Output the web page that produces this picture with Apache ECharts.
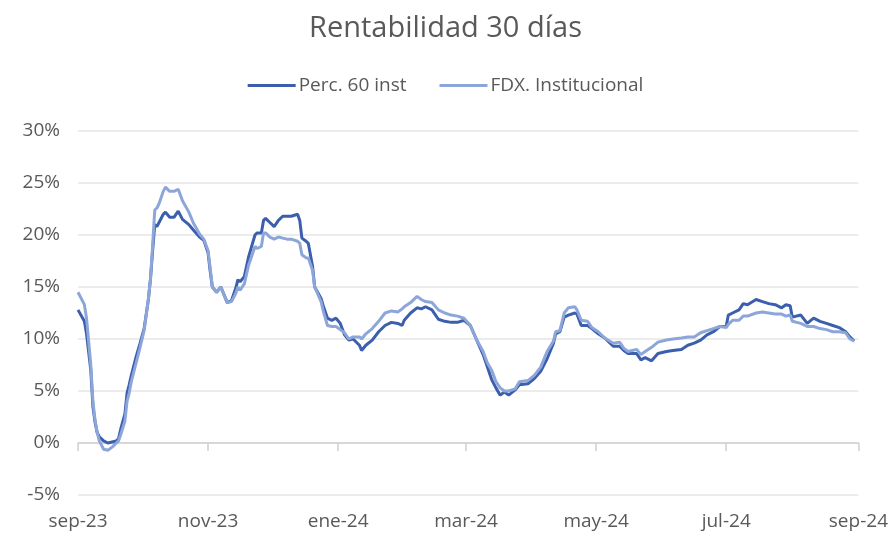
<!DOCTYPE html>
<html>
<head>
<meta charset="utf-8">
<title>Rentabilidad 30 días</title>
<script src="https://cdn.jsdelivr.net/npm/echarts@6/dist/echarts.min.js"></script>
<style>
    html, body { margin: 0; padding: 0; background: #fff; }
    #chart { width: 891px; height: 535px; }
</style>
</head>
<body>
<div id="chart"></div>
<script>
// fechas (muestras)
var fechas = [
    '2023-09-01', '2023-09-04', '2023-09-05', '2023-09-07', '2023-09-08', '2023-09-09', '2023-09-10', '2023-09-11',
    '2023-09-13', '2023-09-15', '2023-09-17', '2023-09-19', '2023-09-20', '2023-09-21', '2023-09-23', '2023-09-24',
    '2023-09-25', '2023-09-26', '2023-09-28', '2023-09-30', '2023-10-02', '2023-10-04', '2023-10-05', '2023-10-06',
    '2023-10-07', '2023-10-08', '2023-10-09', '2023-10-11', '2023-10-12', '2023-10-14', '2023-10-16', '2023-10-18',
    '2023-10-20', '2023-10-23', '2023-10-25', '2023-10-28', '2023-10-30', '2023-11-01', '2023-11-02', '2023-11-03',
    '2023-11-05', '2023-11-07', '2023-11-09', '2023-11-10', '2023-11-12', '2023-11-14', '2023-11-15', '2023-11-16',
    '2023-11-18', '2023-11-20', '2023-11-23', '2023-11-24', '2023-11-26', '2023-11-27', '2023-11-28', '2023-11-30',
    '2023-12-02', '2023-12-04', '2023-12-06', '2023-12-08', '2023-12-10', '2023-12-13', '2023-12-14', '2023-12-15',
    '2023-12-17', '2023-12-18', '2023-12-20', '2023-12-21', '2023-12-24', '2023-12-25', '2023-12-27', '2023-12-29',
    '2023-12-31', '2024-01-02', '2024-01-04', '2024-01-06', '2024-01-08', '2024-01-11', '2024-01-12', '2024-01-14',
    '2024-01-17', '2024-01-20', '2024-01-23', '2024-01-26', '2024-01-29', '2024-01-31', '2024-02-01', '2024-02-04',
    '2024-02-07', '2024-02-09', '2024-02-11', '2024-02-14', '2024-02-17', '2024-02-20', '2024-02-23', '2024-02-26',
    '2024-02-29', '2024-03-03', '2024-03-06', '2024-03-09', '2024-03-11', '2024-03-13', '2024-03-15', '2024-03-17',
    '2024-03-19', '2024-03-21', '2024-03-24', '2024-03-26', '2024-03-30', '2024-04-02', '2024-04-05', '2024-04-08',
    '2024-04-11', '2024-04-12', '2024-04-14', '2024-04-16', '2024-04-18', '2024-04-21', '2024-04-22', '2024-04-24',
    '2024-04-27', '2024-04-29', '2024-05-02', '2024-05-05', '2024-05-09', '2024-05-12', '2024-05-14', '2024-05-16',
    '2024-05-20', '2024-05-22', '2024-05-24', '2024-05-27', '2024-05-30', '2024-06-03', '2024-06-06', '2024-06-10',
    '2024-06-13', '2024-06-16', '2024-06-19', '2024-06-22', '2024-06-25', '2024-06-28', '2024-07-01', '2024-07-02',
    '2024-07-04', '2024-07-07', '2024-07-09', '2024-07-11', '2024-07-15', '2024-07-18', '2024-07-21', '2024-07-24',
    '2024-07-27', '2024-07-29', '2024-07-31', '2024-08-01', '2024-08-05', '2024-08-08', '2024-08-11', '2024-08-14',
    '2024-08-17', '2024-08-20', '2024-08-23', '2024-08-26', '2024-08-28', '2024-08-30'
];

// Perc. 60 inst (%)
var perc60 = [
    12.8, 11.7, 10.5, 7.0, 3.5, 2.0, 1.0, 0.6,
    0.2, 0.0, 0.1, 0.2, 0.4, 1.3, 2.8, 4.8,
    5.6, 6.5, 8.1, 9.5, 11.0, 13.8, 15.8, 18.5,
    21.0, 20.8, 21.2, 22.0, 22.2, 21.7, 21.7, 22.3,
    21.5, 21.0, 20.5, 19.8, 19.5, 18.3, 16.5, 15.0,
    14.5, 15.0, 14.0, 13.5, 13.7, 14.9, 15.7, 15.5,
    16.0, 17.9, 20.0, 20.2, 20.2, 21.4, 21.6, 21.2,
    20.8, 21.4, 21.8, 21.8, 21.8, 22.0, 21.4, 19.7,
    19.4, 19.2, 17.0, 15.0, 13.9, 13.2, 12.0, 11.8,
    12.0, 11.5, 10.4, 9.9, 10.0, 9.4, 8.9, 9.4,
    9.9, 10.7, 11.3, 11.6, 11.5, 11.3, 11.8, 12.5,
    13.0, 12.9, 13.1, 12.8, 11.9, 11.7, 11.6, 11.6,
    11.8, 11.3, 9.9, 8.5, 7.3, 6.1, 5.3, 4.6,
    4.9, 4.6, 5.1, 5.6, 5.7, 6.2, 6.9, 8.1,
    9.6, 10.5, 10.7, 12.1, 12.3, 12.5, 12.4, 11.3,
    11.3, 11.0, 10.5, 10.1, 9.3, 9.3, 8.9, 8.6,
    8.6, 8.0, 8.2, 7.9, 8.6, 8.8, 8.9, 9.0,
    9.4, 9.6, 9.9, 10.4, 10.7, 11.2, 11.2, 12.3,
    12.5, 12.8, 13.4, 13.3, 13.8, 13.6, 13.4, 13.3,
    13.0, 13.3, 13.2, 12.1, 12.3, 11.5, 12.0, 11.7,
    11.5, 11.3, 11.1, 10.7, 10.2, 9.8
];

// FDX. Institucional (%)
var fdxInst = [
    14.5, 13.3, 12.0, 7.5, 4.0, 2.2, 1.0, 0.2,
    -0.6, -0.7, -0.4, 0.0, 0.2, 0.8, 2.1, 4.0,
    4.8, 5.9, 7.5, 9.1, 10.8, 13.8, 15.8, 19.0,
    22.4, 22.6, 23.0, 24.2, 24.6, 24.2, 24.2, 24.4,
    23.3, 22.2, 21.2, 20.1, 19.6, 18.5, 16.8, 15.0,
    14.5, 15.0, 14.0, 13.5, 13.6, 14.4, 15.0, 14.7,
    15.3, 17.1, 18.9, 18.7, 18.9, 20.2, 20.2, 19.8,
    19.6, 19.8, 19.7, 19.6, 19.6, 19.4, 19.2, 18.1,
    17.8, 17.8, 16.6, 15.0, 13.6, 12.7, 11.3, 11.2,
    11.2, 10.9, 10.6, 10.0, 10.2, 10.2, 10.0, 10.5,
    11.0, 11.7, 12.5, 12.7, 12.6, 12.9, 13.1, 13.5,
    14.1, 13.8, 13.6, 13.5, 12.8, 12.5, 12.3, 12.2,
    12.0, 11.3, 9.9, 8.8, 7.7, 7.0, 5.9, 5.3,
    5.0, 5.0, 5.2, 5.9, 6.0, 6.5, 7.3, 8.8,
    9.8, 10.7, 10.8, 12.5, 13.0, 13.1, 12.8, 11.8,
    11.7, 11.1, 10.7, 10.1, 9.6, 9.7, 9.1, 8.8,
    9.0, 8.5, 8.8, 9.2, 9.7, 9.9, 10.0, 10.1,
    10.2, 10.2, 10.6, 10.8, 11.0, 11.2, 11.1, 11.4,
    11.8, 11.8, 12.2, 12.2, 12.5, 12.6, 12.5, 12.4,
    12.4, 12.2, 12.3, 11.7, 11.5, 11.2, 11.2, 11.0,
    10.9, 10.7, 10.7, 10.6, 10.0, 9.8
];

// etiquetas del eje x
var xTickFechas = ['2023-09-01', '2023-11-01', '2024-01-01', '2024-03-01', '2024-05-01', '2024-07-01', '2024-09-01'];
var xTickLabels = ['sep-23', 'nov-23', 'ene-24', 'mar-24', 'may-24', 'jul-24', 'sep-24'];

var nombres = ['Perc. 60 inst', 'FDX. Institucional'];
var colores = ['#3B5EAD', '#8DA6DA'];

var TEXT_COLOR = '#595959';
var FONT = 'Open Sans';

function ts(s) {
    var p = s.split('-');
    return Date.UTC(+p[0], +p[1] - 1, +p[2]);
}

function pares(valores) {
    return fechas.map(function (f, i) { return [ts(f), valores[i]]; });
}

var tickValues = xTickFechas.map(ts);

var chart = echarts.init(document.getElementById('chart'));

var option = {
    animation: false,
    backgroundColor: '#fff',
    color: colores,
    title: {
        text: 'Rentabilidad 30 días',
        left: 'center',
        top: 9,
        textStyle: {color: TEXT_COLOR, fontFamily: FONT, fontSize: 29, fontWeight: 'normal'}
    },
    legend: {
        top: 71,
        left: 'center',
        itemWidth: 48,
        itemHeight: 3,
        itemGap: 33,
        icon: 'rect',
        textStyle: {color: TEXT_COLOR, fontFamily: FONT, fontSize: 19, padding: [0, 0, 0, -2]},
        data: nombres
    },
    grid: {left: 78, right: 29, top: 131, bottom: 40, containLabel: false},
    xAxis: [
        {
            // etiquetas abajo (eje numerico con fechas en ms)
            type: 'value',
            min: tickValues[0],
            max: tickValues[tickValues.length - 1],
            position: 'bottom',
            axisLine: {show: false, onZero: false},
            axisTick: {show: false},
            splitLine: {show: false},
            axisLabel: {
                customValues: tickValues,
                color: TEXT_COLOR,
                fontFamily: FONT,
                fontSize: 19,
                margin: 17,
                hideOverlap: false,
                formatter: function (v) {
                    var i = tickValues.indexOf(v);
                    return i >= 0 ? xTickLabels[i] : '';
                }
            }
        },
        {
            // linea del cero con marcas
            type: 'value',
            min: tickValues[0],
            max: tickValues[tickValues.length - 1],
            position: 'bottom',
            axisLine: {show: true, onZero: true, lineStyle: {color: '#D0D0D0', width: 1.5}},
            axisTick: {show: true, customValues: tickValues, length: 8, lineStyle: {color: '#D0D0D0', width: 1.5}},
            axisLabel: {show: false},
            splitLine: {show: false}
        }
    ],
    yAxis: {
        type: 'value',
        min: -5,
        max: 30,
        interval: 5,
        axisLine: {show: false},
        axisTick: {show: false},
        splitLine: {lineStyle: {color: '#E6E6E6', width: 1.5}},
        axisLabel: {
            color: TEXT_COLOR,
            fontFamily: FONT,
            fontSize: 19,
            margin: 18,
            formatter: function (v) { return v + '%'; }
        }
    },
    series: [
        {
            name: nombres[0],
            type: 'line',
            xAxisIndex: 0,
            showSymbol: false,
            symbol: 'none',
            z: 3,
            lineStyle: {width: 3, color: colores[0]},
            data: pares(perc60)
        },
        {
            name: nombres[1],
            type: 'line',
            xAxisIndex: 0,
            showSymbol: false,
            symbol: 'none',
            z: 4,
            lineStyle: {width: 3, color: colores[1]},
            data: pares(fdxInst)
        }
    ]
};

chart.setOption(option);
</script>
</body>
</html>
